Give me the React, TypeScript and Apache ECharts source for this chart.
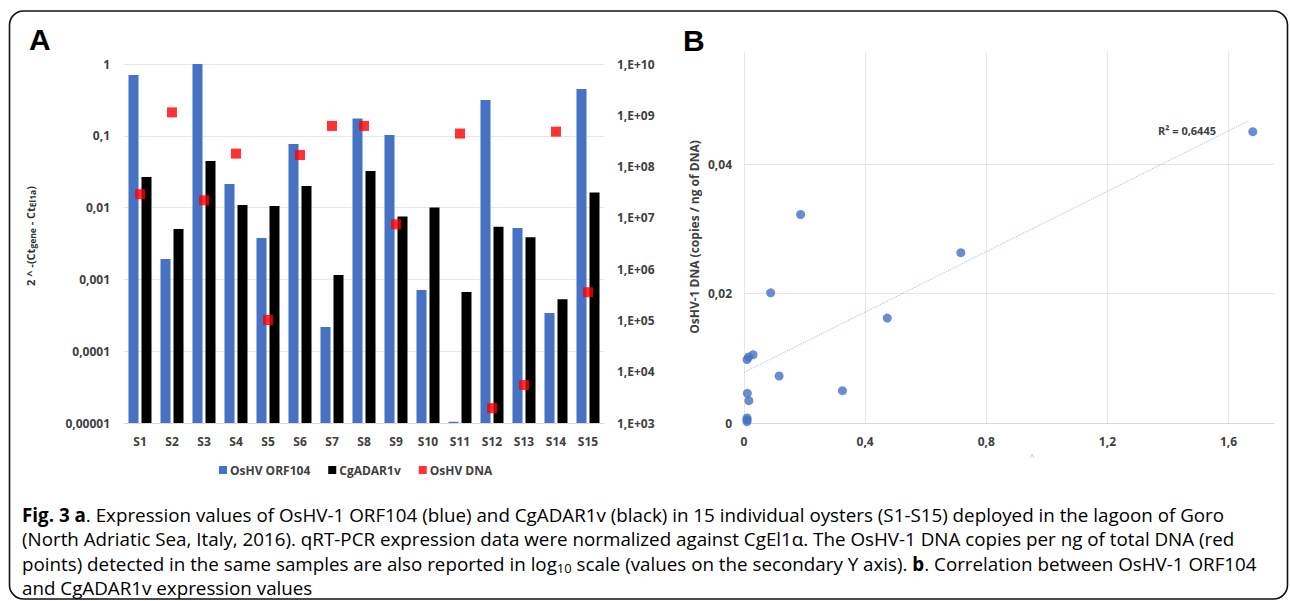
import React, { useEffect, useRef } from "react";
import * as echarts from "echarts";

// ---------- Panel A data ----------
const categories = ["S1", "S2", "S3", "S4", "S5", "S6", "S7", "S8", "S9", "S10", "S11", "S12", "S13", "S14", "S15"];
const orf104 = [0.7, 0.00192, 1.0, 0.0213, 0.00377, 0.0769, 0.000217, 0.174, 0.103, 0.00071, 0.0000104, 0.315, 0.0052, 0.00034, 0.45];
const cgadar = [0.0267, 0.00503, 0.0446, 0.0109, 0.0105, 0.02, 0.00115, 0.0323, 0.0075, 0.01, 0.00067, 0.0054, 0.00386, 0.00053, 0.0162];
const oshvDna = [2.9e7, 1.14e9, 2.2e7, 1.79e8, 1.02e5, 1.68e8, 6.2e8, 6.2e8, 7.5e6, null, 4.4e8, 1.95e3, 5.5e3, 4.8e8, 3.55e5];
const legendNames = ["OsHV ORF104", "CgADAR1v", "OsHV DNA"];

// ---------- Panel B data ----------
const corrX = [0.088, 0.716, 0.473, 0.03, 0.01, 0.015, 0.116, 0.325, 0.011, 0.016, 0.01, 0.01, 0.01, 0.187, 1.68];
const corrY = [0.0201, 0.0263, 0.0162, 0.01055, 0.0098, 0.0102, 0.00726, 0.005, 0.00459, 0.00345, 0.00077, 0.0005, 0.0002, 0.0322, 0.045];
const trendX = [0, 1.667];
const trendY = [0.0078, 0.0467];
const r2Label = "R² = 0,6445";

const captionLines = [
  "{b|Fig. 3 a}{n|. Expression values of OsHV-1 ORF104 (blue) and CgADAR1v (black) in 15 individual oysters (S1-S15) deployed in the lagoon of Goro}",
  "{n|(North Adriatic Sea, Italy, 2016). qRT-PCR expression data were normalized against CgEl1α. The OsHV-1 DNA copies per ng of total DNA (red}",
  "{n|points) detected in the same samples are also reported in log}{sub|10}{n| scale (values on the secondary Y axis). }{b|b}{n|. Correlation between OsHV-1 ORF104}",
  "{n|and CgADAR1v expression values}",
];

const FONT = "Open Sans";
const LABEL = { fontFamily: FONT, fontWeight: "bold" as const, fontSize: 12, color: "#404040" };

const fmtLeft = (v: number) => {
  const e = Math.round(Math.log10(v));
  if (e >= 0) return "1";
  return "0," + "0".repeat(-e - 1) + "1";
};
const fmtRight = (v: number) => {
  const e = Math.round(Math.log10(v));
  return "1,E+" + String(e).padStart(2, "0");
};
const fmtStep = (step: number, digits: number) => (v: number) => {
  const r = Math.round(v / step);
  if (Math.abs(v - r * step) > step * 1e-3) return "";
  if (r === 0) return "0";
  return (r * step).toFixed(digits).replace(".", ",");
};

export default function App() {
  const ref = useRef<HTMLDivElement>(null);
  useEffect(() => {
    if (!ref.current) return;
    const chart = echarts.init(ref.current, null, { renderer: "svg" });
    const capRich = {
      n: { fontFamily: FONT, fontSize: 18.8, color: "#333" },
      b: { fontFamily: FONT, fontSize: 18.8, color: "#222", fontWeight: "bold" },
      sub: { fontFamily: FONT, fontSize: 13, color: "#333", verticalAlign: "bottom", padding: [9, 0, 0, 0] },
    };
    const option: any = {
      animation: false,
      backgroundColor: "#fff",
      grid: [
        { left: 124, top: 64, width: 480, height: 359, outerBoundsMode: "none" },
        { left: 744, top: 52, width: 530, height: 371, outerBoundsMode: "none" },
      ],
      legend: {
        data: legendNames.map((n) => ({ name: n, icon: "rect" })),
        left: 214,
        top: 459,
        itemWidth: 8,
        itemHeight: 8,
        itemGap: 18,
        textStyle: { ...LABEL, padding: [0, 0, 0, -2] },
      },
      xAxis: [
        {
          type: "category",
          gridIndex: 0,
          data: categories,
          axisTick: { show: false },
          axisLine: { lineStyle: { color: "#d9d9d9", width: 1 } },
          axisLabel: { ...LABEL, margin: 12 },
        },
        {
          type: "value",
          gridIndex: 1,
          min: 0,
          max: 1.75,
          interval: 0.4,
          axisTick: { show: false },
          axisLine: { show: true, lineStyle: { color: "#d9d9d9" } },
          axisLabel: { ...LABEL, margin: 12, formatter: fmtStep(0.4, 1) },
          splitLine: { show: true, showMaxLine: false, lineStyle: { color: "#e6e6e6" } },
        },
      ],
      yAxis: [
        {
          type: "log",
          gridIndex: 0,
          logBase: 10,
          min: 0.00001,
          max: 1,
          startValue: 0.00001,
          splitNumber: 5,
          axisLine: { show: false },
          axisTick: { show: false },
          axisLabel: { ...LABEL, margin: 14, formatter: fmtLeft },
          splitLine: { show: true, lineStyle: { color: "#e6e6e6" } },
        },
        {
          type: "log",
          gridIndex: 0,
          logBase: 10,
          position: "right",
          min: 1e3,
          max: 1e10,
          splitNumber: 7,
          axisLine: { show: false },
          axisTick: { show: false },
          axisLabel: { ...LABEL, margin: 13, formatter: fmtRight },
          splitLine: { show: false },
        },
        {
          type: "value",
          gridIndex: 1,
          min: 0,
          max: 0.0573,
          interval: 0.02,
          axisLine: { show: false },
          axisTick: { show: false },
          axisLabel: { ...LABEL, margin: 12, formatter: fmtStep(0.02, 2) },
          splitLine: { show: true, showMaxLine: false, lineStyle: { color: "#e6e6e6" } },
        },
      ],
      series: [
        {
          name: legendNames[0],
          type: "bar",
          xAxisIndex: 0,
          yAxisIndex: 0,
          data: orf104,
          barWidth: 10,
          barGap: "30%",
          itemStyle: { color: "#4472C4" },
        },
        {
          name: legendNames[1],
          type: "bar",
          xAxisIndex: 0,
          yAxisIndex: 0,
          data: cgadar,
          barWidth: 10,
          barGap: "30%",
          itemStyle: { color: "#000000" },
        },
        {
          name: legendNames[2],
          type: "scatter",
          xAxisIndex: 0,
          yAxisIndex: 1,
          data: oshvDna.map((v) => (v == null ? "-" : v)),
          symbol: "rect",
          symbolSize: 10,
          itemStyle: { color: "#FF0000" },
          z: 5,
        },
        {
          name: "trend",
          type: "line",
          xAxisIndex: 1,
          yAxisIndex: 2,
          data: trendX.map((x, i) => [x, trendY[i]]),
          symbol: "none",
          lineStyle: { color: "#9fb8e6", width: 1, type: "dotted" },
          z: 1,
        },
        {
          name: "corr",
          type: "scatter",
          xAxisIndex: 1,
          yAxisIndex: 2,
          data: corrX.map((x, i) => [x, corrY[i]]),
          symbol: "circle",
          symbolSize: 9,
          itemStyle: { color: "#4472C4" },
          z: 3,
        },
      ],
      graphic: [
        {
          type: "rect",
          shape: { x: 9.5, y: 11, width: 1278, height: 588, r: 14 },
          style: { fill: "none", stroke: "#111", lineWidth: 1.6 },
          silent: true,
        },
        {
          type: "text",
          x: 29,
          y: 39,
          style: { text: "A", fontFamily: "Liberation Sans", fontWeight: "bold", fontSize: 30, fill: "#000", verticalAlign: "middle" },
        },
        {
          type: "text",
          x: 683,
          y: 40,
          style: { text: "B", fontFamily: "Liberation Sans", fontWeight: "bold", fontSize: 30, fill: "#000", verticalAlign: "middle" },
        },
        {
          type: "text",
          x: 30,
          y: 236,
          rotation: Math.PI / 2,
          style: {
            text: "{a|2 ^ -(Ct}{s|gene}{a| - Ct}{s|El1a}{a|)}",
            align: "center",
            verticalAlign: "middle",
            rich: {
              a: { fontFamily: FONT, fontWeight: "bold", fontSize: 11, fill: "#333", lineHeight: 14 },
              s: { fontFamily: FONT, fontWeight: "bold", fontSize: 8.5, fill: "#333", lineHeight: 14, verticalAlign: "bottom", padding: [4, 0, 0, 0] },
            },
          },
        },
        {
          type: "text",
          x: 694,
          y: 237,
          rotation: Math.PI / 2,
          style: {
            text: "OsHV-1 DNA (copies / ng of DNA)",
            align: "center",
            verticalAlign: "middle",
            fontFamily: FONT,
            fontWeight: "bold",
            fontSize: 12,
            fill: "#404040",
          },
        },
        {
          type: "text",
          x: 1216,
          y: 130,
          style: { text: r2Label, align: "right", verticalAlign: "middle", fontFamily: FONT, fontWeight: "bold", fontSize: 11, fill: "#404040" },
        },
        {
          type: "text",
          x: 1032,
          y: 456,
          style: { text: "^", align: "center", verticalAlign: "middle", fontFamily: FONT, fontSize: 9, fill: "#bbb" },
        },
        ...captionLines.map((t, i) => ({
          type: "text",
          x: 22,
          y: 515 + i * 24.3,
          style: { text: t, verticalAlign: "middle", rich: capRich },
        })),
      ],
    };
    chart.setOption(option);
    return () => chart.dispose();
  }, []);
  return <div ref={ref} style={{ position: "absolute", left: 0, top: 0, width: 1290, height: 601 }} />;
}
